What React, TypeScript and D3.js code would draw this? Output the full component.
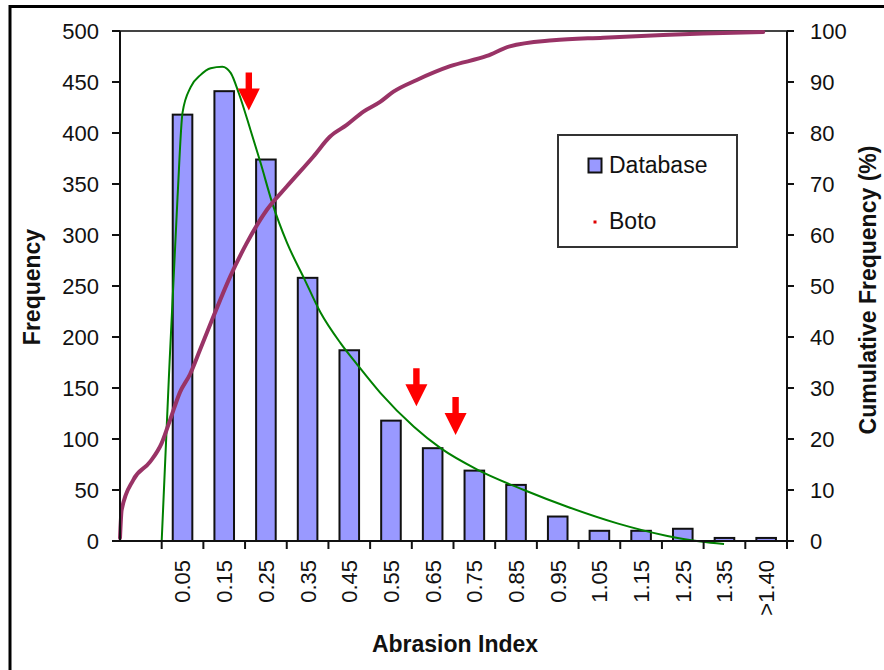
import React from "react";
import * as d3 from "d3";

// ---- data ----
const categories = ["", "0.05", "0.15", "0.25", "0.35", "0.45", "0.55", "0.65", "0.75", "0.85", "0.95", "1.05", "1.15", "1.25", "1.35", ">1.40"];
const frequency = [0, 418, 441, 374, 258, 187, 118, 91, 69, 55, 24, 10, 10, 12, 3, 3];

// fitted distribution curve (abrasion index, frequency)
const fitX = [0, 0.017, 0.038, 0.05, 0.0695, 0.0935, 0.1175, 0.1455, 0.1655, 0.185, 0.213, 0.237, 0.2655, 0.301, 0.341, 0.381, 0.429, 0.469, 0.525, 0.605, 0.669, 0.757, 0.869, 0.973, 1.093, 1.213, 1.293, 1.349];
const fitY = [0, 158, 337, 420, 445, 457, 463.5, 465, 459, 439, 403, 371, 331, 292, 258, 224, 194, 173, 145, 112, 91, 70, 50, 33.6, 17.3, 5, -0.6, -3];

// cumulative frequency (Boto) (abrasion index, %)
const cumX = [0, 0.004, 0.032, 0.072, 0.1, 0.12, 0.144, 0.168, 0.192, 0.224, 0.264, 0.304, 0.352, 0.4, 0.464, 0.504, 0.544, 0.584, 0.624, 0.656, 0.712, 0.792, 0.88, 0.935, 1.039, 1.159, 1.303, 1.399, 1.543];
const cumY = [0.6, 6.1, 12, 15.5, 19.2, 23.7, 29.2, 32.7, 37.5, 44, 51.8, 58.4, 64.9, 69.5, 75.4, 79.3, 81.6, 84.2, 86.1, 88.1, 90.4, 93.1, 95.1, 97, 98.2, 98.7, 99.2, 99.5, 99.8];

// annotation arrows (abrasion index, frequency at tip)
const arrowX = [0.209, 0.611, 0.705];
const arrowTip = [422, 132, 104];

const leftTicks = [0, 50, 100, 150, 200, 250, 300, 350, 400, 450, 500];
const rightTicks = [0, 10, 20, 30, 40, 50, 60, 70, 80, 90, 100];

const FONT = "'Liberation Sans', Arial, Helvetica, sans-serif";

export default function App() {
  const W = 884, H = 670;
  const x0 = 120, x1 = 787, yTop = 31, yBot = 541;

  const xBand = d3.scaleBand<string>().domain(categories).range([x0, x1]).padding(0);
  const yL = d3.scaleLinear().domain([0, 500]).range([yBot, yTop]);
  const yR = d3.scaleLinear().domain([0, 100]).range([yBot, yTop]);
  const xFit = d3.scaleLinear().domain([-0.1, 1.5]).range([x0, x1]);
  const xCum = d3.scaleLinear().domain([0, 1.6]).range([x0, x1]);

  const bw = xBand.bandwidth();
  const barW = bw * 0.47;

  const fitLine = d3.line<number>()
    .x((_, i) => xFit(fitX[i]))
    .y((d) => yL(d))
    .curve(d3.curveMonotoneX);
  const cumLine = d3.line<number>()
    .x((_, i) => xCum(cumX[i]))
    .y((d) => yR(d))
    .curve(d3.curveMonotoneX);

  const boundaries = categories.slice(1).map((c) => (xBand(c) as number));
  boundaries.push(x1);

  return (
    <svg width={W} height={H} style={{ position: "absolute", left: 0, top: 0, background: "#fff" }} fontFamily={FONT}>
      <rect x={0} y={0} width={W} height={H} fill="#fff" />
      {/* outer frame */}
      <rect x={10} y={6.5} width={W + 20} height={H + 20} fill="none" stroke="#000" strokeWidth={3} />

      {/* bars */}
      {categories.map((c, i) =>
        c === "" ? null : (
          <rect
            key={c}
            x={(xBand(c) as number) + bw / 2 - barW / 2}
            y={yL(frequency[i])}
            width={barW}
            height={yBot - yL(frequency[i])}
            fill="#9999ff"
            stroke="#111"
            strokeWidth={2}
          />
        )
      )}

      {/* plot frame top */}
      <line x1={x0} x2={x1} y1={yTop} y2={yTop} stroke="#444" strokeWidth={2} />

      {/* fitted curve */}
      <path d={fitLine(fitY) || ""} fill="none" stroke="#008000" strokeWidth={2} />
      {/* cumulative curve */}
      <path d={cumLine(cumY) || ""} fill="none" stroke="#993366" strokeWidth={4} strokeLinejoin="round" strokeLinecap="round" />

      {/* axes */}
      <line x1={x0} x2={x0} y1={yTop} y2={yBot} stroke="#111" strokeWidth={2} />
      <line x1={x1} x2={x1} y1={yTop} y2={yBot} stroke="#111" strokeWidth={2} />
      <line x1={x0} x2={x1} y1={yBot} y2={yBot} stroke="#111" strokeWidth={2} />

      {leftTicks.map((t) => (
        <g key={"l" + t}>
          <line x1={x0 - 8} x2={x0} y1={yL(t)} y2={yL(t)} stroke="#111" strokeWidth={2} />
          <text x={99} y={yL(t)} dy="0.36em" textAnchor="end" fontSize={22} fill="#111">{t}</text>
        </g>
      ))}
      {rightTicks.map((t) => (
        <g key={"r" + t}>
          <line x1={x1} x2={x1 + 7} y1={yR(t)} y2={yR(t)} stroke="#111" strokeWidth={2} />
          <text x={810} y={yR(t)} dy="0.36em" textAnchor="start" fontSize={22} fill="#111">{t}</text>
        </g>
      ))}
      {boundaries.map((b, i) => (
        <line key={"b" + i} x1={b} x2={b} y1={yBot} y2={yBot + 8} stroke="#111" strokeWidth={2} />
      ))}
      {categories.map((c) =>
        c === "" ? null : (
          <text
            key={"t" + c}
            transform={`translate(${(xBand(c) as number) + bw / 2},560) rotate(-90)`}
            dy="0.36em"
            textAnchor="end"
            fontSize={22}
            fill="#111"
          >
            {c}
          </text>
        )
      )}

      {/* arrows */}
      {arrowX.map((ax, i) => {
        const cx = xFit(ax);
        const tip = yL(arrowTip[i]);
        const len = 38, head = 22, hw = 11, sw = 3.2;
        const top = tip - len;
        const d = `M${cx - sw},${top} L${cx + sw},${top} L${cx + sw},${tip - head} L${cx + hw},${tip - head} L${cx},${tip} L${cx - hw},${tip - head} L${cx - sw},${tip - head} Z`;
        return <path key={"a" + i} d={d} fill="#ff0000" />;
      })}

      {/* legend */}
      <rect x={558} y={135} width={179} height={112} fill="#fff" stroke="#333" strokeWidth={2} />
      <rect x={588.5} y={158.5} width={13} height={14} fill="#9999ff" stroke="#111" strokeWidth={2} />
      <text x={609} y={173} fontSize={23} fill="#111">Database</text>
      <rect x={593.5} y={220.5} width={3} height={3} fill="#e00000" />
      <text x={609} y={229} fontSize={23} fill="#111">Boto</text>

      {/* axis titles */}
      <text transform="translate(40,287) rotate(-90)" textAnchor="middle" fontSize={23} fontWeight="bold" fill="#111">Frequency</text>
      <text transform="translate(876,290) rotate(-90)" textAnchor="middle" fontSize={23} fontWeight="bold" fill="#111">Cumulative Frequency (%)</text>
      <text x={455} y={652} textAnchor="middle" fontSize={23} fontWeight="bold" fill="#111">Abrasion Index</text>
    </svg>
  );
}
